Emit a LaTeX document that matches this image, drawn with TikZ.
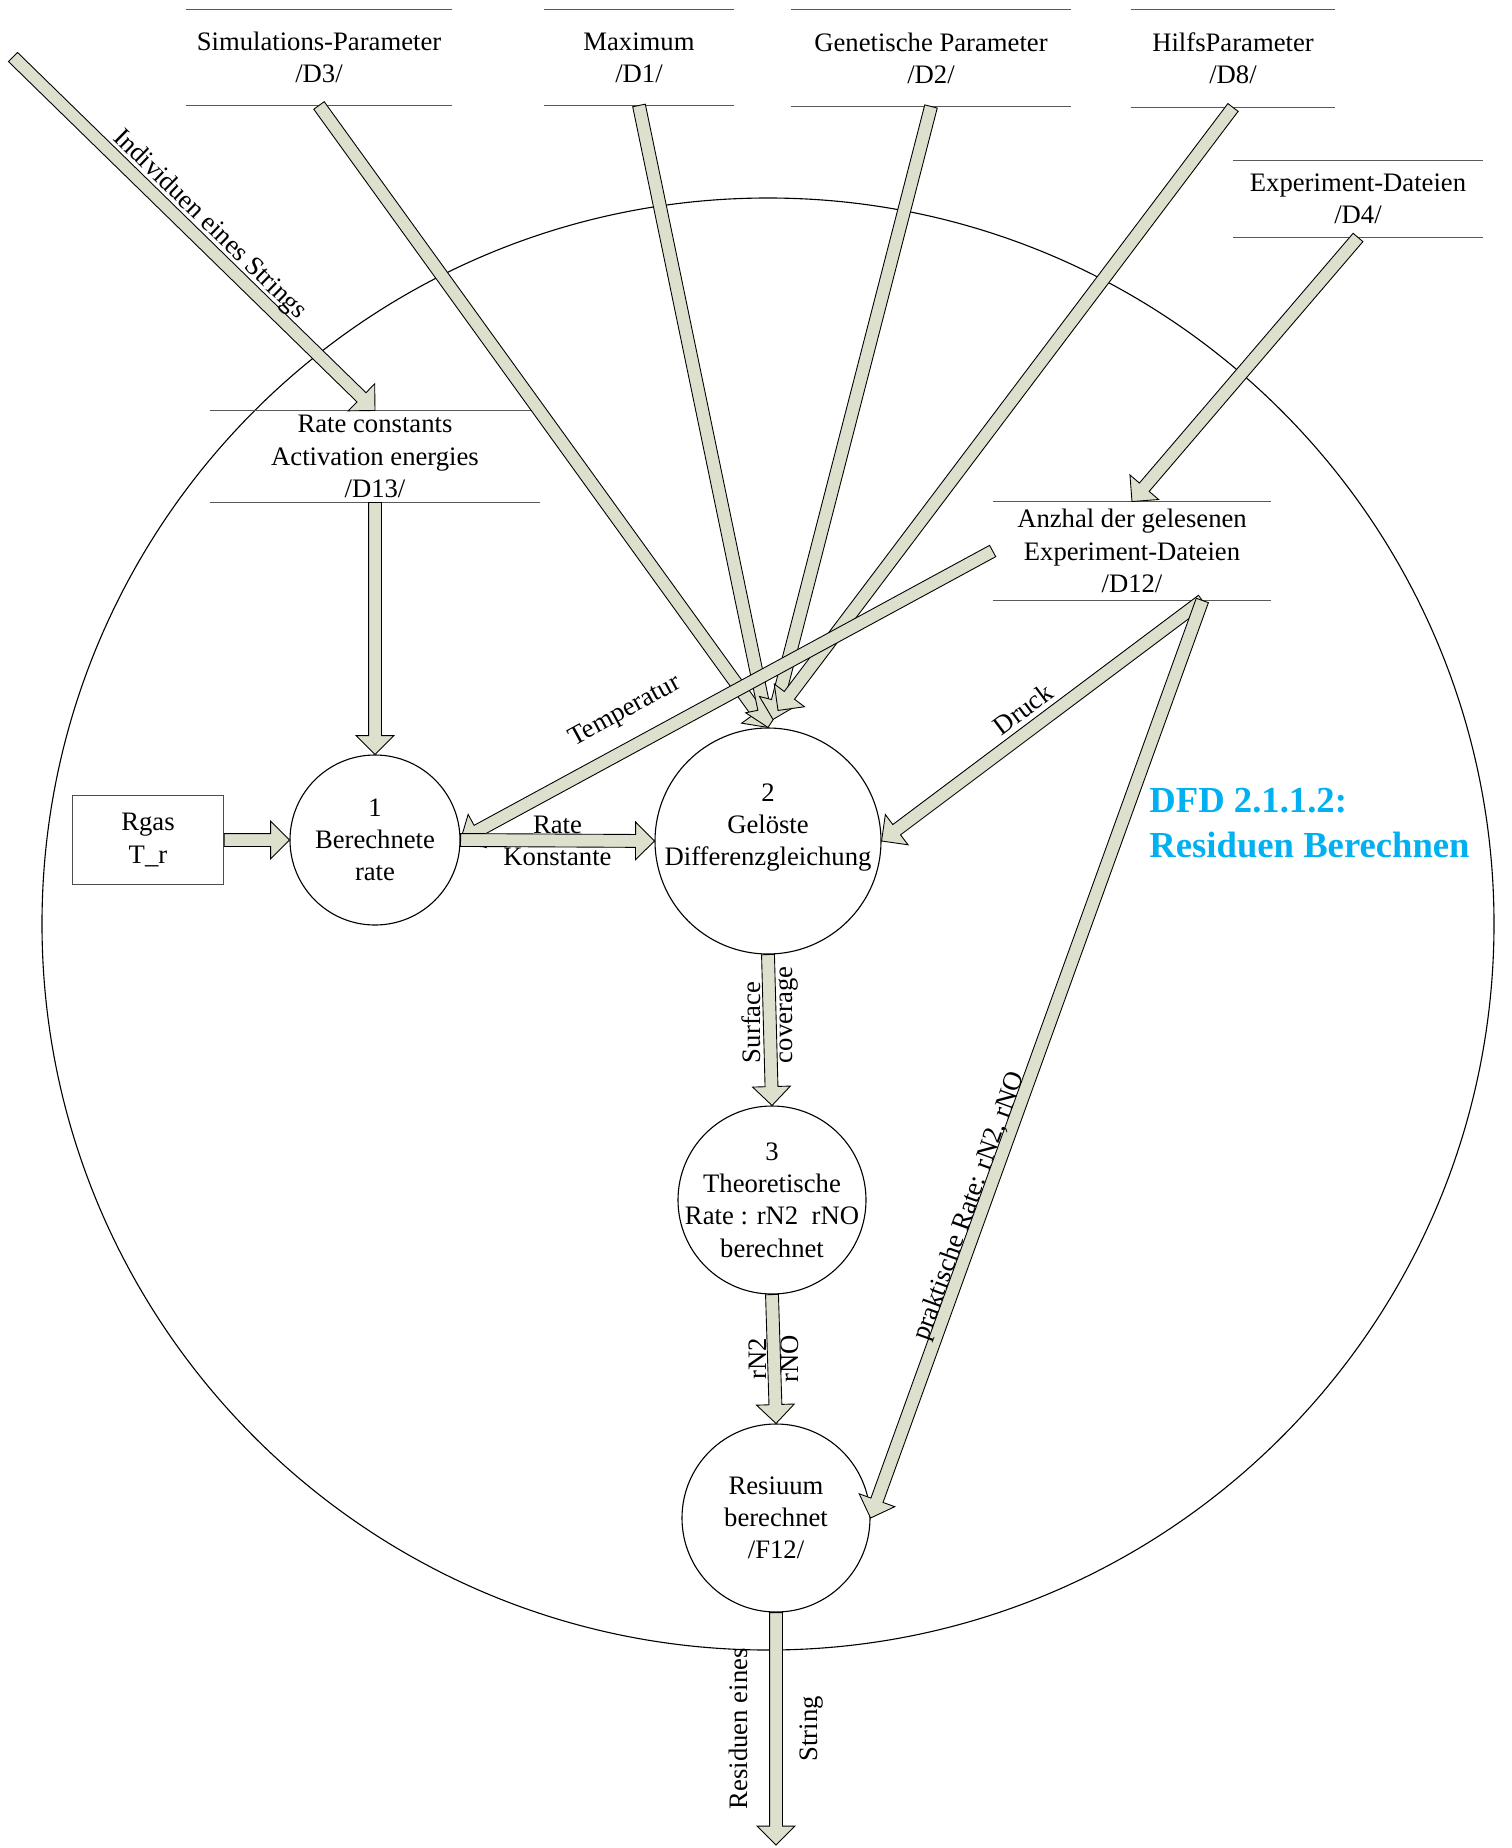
\documentclass[12pt,tikz,border=0pt]{standalone}
\usepackage{fontspec}
\setmainfont{Liberation Serif}
\usetikzlibrary{calc,positioning}

\definecolor{flowgreen}{RGB}{221,224,204}
\definecolor{titleblue}{RGB}{0,176,240}

\tikzset{
  process/.style={circle, draw, fill=white, align=center, inner sep=0pt, line width=0.5pt},
  store/.style={align=center, inner sep=0pt},
  storeline/.style={draw=black!65, line width=0.7pt},
  flow/.style={fill=flowgreen, draw=black, line width=0.4pt, line join=miter},
  flowlabel/.style={inner sep=1pt},
}

% fat data-flow arrow from #1 to #2
\def\shaft{2.9pt}
\def\head{8.5pt}
\def\headlen{8.5pt}
\newcommand\flow[2]{%
  \coordinate (fa) at (#1);
  \coordinate (fb) at (#2);
  \coordinate (fh) at ($(fb)!\headlen!(fa)$);
  \filldraw[flow] ($(fa)!\shaft!90:(fb)$) -- ($(fh)!\shaft!90:(fb)$)
    -- ($(fh)!\head!90:(fb)$) -- (fb) -- ($(fh)!\head!-90:(fb)$)
    -- ($(fh)!\shaft!-90:(fb)$) -- ($(fa)!\shaft!-90:(fb)$) -- cycle;
}

\begin{document}
\begin{tikzpicture}[x=0.45pt, y=-0.45pt]
  \useasboundingbox (0,0) rectangle (1512,1848);

  % system boundary
  \node[circle, draw, line width=0.5pt, minimum size=653.4pt, inner sep=0pt] (system) at (768,924) {};

  % data stores
  \node[store, minimum width=119.25pt, minimum height=42.75pt] (d3) at (319,57.5) {Simulations-Parameter\\/D3/};
  \node[store, minimum width=85.5pt, minimum height=42.75pt] (d1) at (639,57.5) {Maximum\\/D1/};
  \node[store, minimum width=126pt, minimum height=43.2pt] (d2) at (931,58) {Genetische Parameter\\/D2/};
  \node[store, minimum width=91.8pt, minimum height=43.65pt] (d8) at (1233,58.5) {HilfsParameter\\/D8/};
  \node[store, minimum width=112pt, minimum height=34.2pt] (d4) at (1358,199) {Experiment-Dateien\\/D4/};
  \node[store, minimum width=148.5pt, minimum height=41pt] (d13) at (375,456.5) {Rate constants\\Activation energies\\/D13/};
  \node[store, minimum width=125pt, minimum height=44.1pt] (d12) at (1132,551) {Anzhal der gelesenen\\Experiment-Dateien\\/D12/};
  \foreach \s in {d3,d1,d2,d8,d4,d13,d12}
    \draw[storeline] (\s.north west) -- (\s.north east) (\s.south west) -- (\s.south east);

  % terminator and processes
  \node[draw=black!70, line width=0.6pt, minimum width=68pt, minimum height=40pt, align=center] (rgas) at (148,840) {Rgas\\T\_r};
  \node[process, minimum size=76.5pt] (p1) at (375,840) {1\\Berechnete\\rate};
  \node[process, minimum size=101.7pt, inner sep=-6pt] (p2) at (768,841) {2\\Gelöste\\Differenzgleichung\\[-4pt]\strut};
  \node[process, minimum size=84.6pt, inner sep=-6pt] (p3) at (772,1200) {3\\Theoretische\\Rate : rN2~~rNO\\berechnet};
  \node[process, minimum size=84.6pt] (p4) at (776,1518) {Resiuum\\berechnet\\/F12/};

  \node[font=\fontsize{16.5}{20}\selectfont\bfseries, text=titleblue, align=left, anchor=west, inner sep=0pt] (title) at (1149,823) {DFD 2.1.1.2:\\Residuen Berechnen};

  % free ends
  \coordinate (indiv) at (13,57);
  \coordinate (out) at (776,1845);
  \coordinate (d12tail) at ($(d12.south east)+(-69,0)$);
  \coordinate (d12in) at (d12.north);

  % flows
  \flow{indiv}{d13.north}
  \flow{d3.south}{p2.north}
  \flow{d1.south}{p2.north}
  \flow{d2.south}{$(p2.north)+(5,-8)$}
  \flow{d8.south}{$(p2.north)+(10,-17)$}
  \flow{d4.south}{d12in}
  \flow{d12.west}{p1.east}
  \flow{d12tail}{p2.east}
  \flow{d12tail}{p4.east}
  \flow{d13.south}{p1.north}
  \flow{rgas.east}{p1.west}
  \flow{p1.east}{p2.west}
  \flow{p2.south}{p3.north}
  \flow{p3.south}{p4.north}
  \flow{p4.south}{out}

  % flow labels
  \path (indiv) -- (d13.north) node[flowlabel, sloped, above, inner sep=2pt, pos=0.51] (lindiv) {Individuen eines Strings};
  \path (d12.west) -- (p1.east) node[sloped, above=6pt, pos=0.66] (ltemp) {Temperatur};
  \path (d12tail) -- (p2.east) node[sloped, above, inner sep=5pt, pos=0.52] (ldruck) {Druck};
  \path (d12tail) -- (p4.east) node[sloped, above=0pt, inner sep=0pt, pos=0.665] (lprakt) {praktische Rate: rN2, rNO};
  \path (p1.east) -- (p2.west) node[midway, align=center, inner sep=0pt] (lrate) {Rate\\Konstante};
  \path (p2.south) -- (p3.north) node[pos=0.4, rotate=90, align=left, inner sep=0pt] (lsurf) {Surface\\coverage};
  \path (p3.south) -- (p4.north) node[midway, rotate=90, align=center, inner sep=0pt] (lrn) {rN2\\rNO};
  \path (p4.south) -- (out) node[midway, rotate=90, align=center, inner sep=0pt] (lres) {Residuen eines\\[17pt]String};
\end{tikzpicture}
\end{document}
